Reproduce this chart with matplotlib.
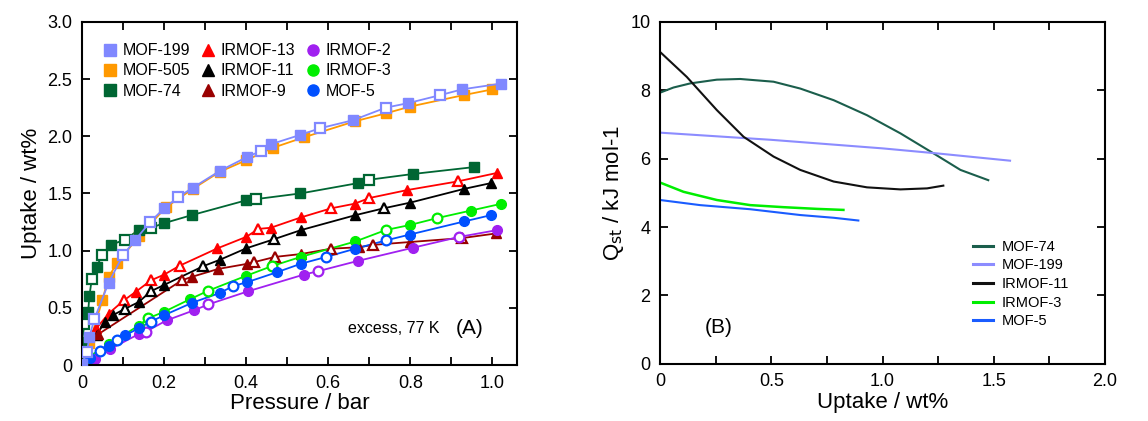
import numpy as np
import matplotlib.pyplot as plt
from matplotlib.lines import Line2D

plt.rcParams['font.family'] = ['Liberation Sans', 'DejaVu Sans']

# ---- (A) excess H2 isotherms at 77 K: (pressure bar, uptake wt%) ----
# filled = adsorption, open = desorption
mof199_ads = [(0.0, 0.006), (0.018, 0.245), (0.065, 0.72), (0.13, 1.095), (0.2, 1.37), (0.27, 1.55),
              (0.337, 1.70), (0.403, 1.82), (0.46, 1.93), (0.53, 2.01), (0.66, 2.14), (0.795, 2.29),
              (0.926, 2.41), (1.02, 2.46)]
mof199_des = [(0.012, 0.11), (0.03, 0.40), (0.10, 0.96), (0.166, 1.25), (0.235, 1.47), (0.435, 1.87),
              (0.58, 2.07), (0.74, 2.25), (0.873, 2.36)]
mof505_ads = [(0.0, 0.0), (0.018, 0.19), (0.05, 0.57), (0.065, 0.77), (0.085, 0.89), (0.14, 1.13),
              (0.205, 1.38), (0.27, 1.54), (0.336, 1.69), (0.40, 1.79), (0.466, 1.90), (0.54, 1.99),
              (0.664, 2.13), (0.74, 2.20), (0.80, 2.26), (0.93, 2.36), (1.0, 2.41)]
mof505_des = []
mof74_ads = [(0.0, 0.2), (0.015, 0.46), (0.018, 0.60), (0.036, 0.86), (0.07, 1.05), (0.138, 1.18),
             (0.2, 1.24), (0.267, 1.31), (0.40, 1.44), (0.532, 1.50), (0.672, 1.59), (0.806, 1.67),
             (0.954, 1.73)]
mof74_des = [(0.006, 0.36), (0.024, 0.755), (0.049, 0.96), (0.104, 1.095), (0.168, 1.20),
             (0.423, 1.45), (0.70, 1.62)]
irmof13_ads = [(0.035, 0.32), (0.065, 0.45), (0.131, 0.64), (0.2, 0.79), (0.33, 1.02), (0.40, 1.12),
               (0.46, 1.20), (0.533, 1.29), (0.664, 1.41), (0.793, 1.53), (1.012, 1.68)]
irmof13_des = [(0.102, 0.565), (0.168, 0.74), (0.239, 0.87), (0.43, 1.19), (0.607, 1.37),
               (0.70, 1.46), (0.915, 1.605)]
irmof11_ads = [(0.0, 0.01), (0.036, 0.26), (0.055, 0.375), (0.075, 0.435), (0.138, 0.55), (0.2, 0.70),
               (0.336, 0.92), (0.40, 1.02), (0.534, 1.18), (0.666, 1.31), (0.80, 1.42), (0.931, 1.54),
               (0.996, 1.59)]
irmof11_des = [(0.104, 0.49), (0.168, 0.645), (0.296, 0.865), (0.468, 1.10), (0.735, 1.37)]
irmof9_ads = [(0.04, 0.27), (0.267, 0.77), (0.332, 0.84), (0.403, 0.885), (0.533, 0.97), (0.676, 1.03),
              (0.798, 1.075), (1.008, 1.15)]
irmof9_des = [(0.243, 0.74), (0.42, 0.90), (0.47, 0.945), (0.607, 1.017), (0.708, 1.05), (0.927, 1.11)]
irmof2_ads = [(0.0, 0.0), (0.032, 0.055), (0.069, 0.14), (0.138, 0.27), (0.206, 0.39), (0.274, 0.48),
              (0.405, 0.645), (0.54, 0.79), (0.672, 0.91), (0.806, 1.025), (1.012, 1.18)]
irmof2_des = [(0.155, 0.29), (0.308, 0.53), (0.575, 0.82), (0.919, 1.12)]
irmof3_ads = [(0.008, 0.055), (0.066, 0.18), (0.138, 0.345), (0.2, 0.465), (0.263, 0.575), (0.40, 0.78),
              (0.533, 0.945), (0.666, 1.08), (0.80, 1.225), (0.947, 1.35), (1.022, 1.41)]
irmof3_des = [(0.162, 0.41), (0.308, 0.65), (0.463, 0.865), (0.74, 1.18), (0.866, 1.285)]
mof5_ads = [(0.0, 0.006), (0.019, 0.064), (0.066, 0.17), (0.105, 0.26), (0.138, 0.32), (0.2, 0.435),
            (0.269, 0.545), (0.336, 0.63), (0.403, 0.725), (0.474, 0.81), (0.533, 0.885), (0.666, 1.017),
            (0.798, 1.14), (0.931, 1.255), (0.996, 1.31)]
mof5_des = [(0.045, 0.12), (0.085, 0.22), (0.168, 0.38), (0.368, 0.69), (0.595, 0.945), (0.741, 1.09)]

# ---- (B) isosteric heats: (uptake wt%, Qst kJ/mol) ----
qst_mof74 = [(0.0, 7.93), (0.06, 8.08), (0.135, 8.2), (0.255, 8.31), (0.36, 8.33), (0.51, 8.25),
             (0.63, 8.05), (0.78, 7.71), (0.93, 7.27), (1.08, 6.74), (1.23, 6.15), (1.35, 5.67), (1.475, 5.37)]
qst_mof199 = [(0.0, 6.76), (0.5, 6.55), (1.0, 6.3), (1.25, 6.15), (1.573, 5.94)]
qst_irmof11 = [(0.0, 9.12), (0.12, 8.39), (0.255, 7.42), (0.375, 6.64), (0.51, 6.06), (0.63, 5.67),
               (0.78, 5.33), (0.93, 5.16), (1.08, 5.10), (1.2, 5.13), (1.273, 5.21)]
qst_irmof3 = [(0.0, 5.30), (0.105, 5.03), (0.255, 4.79), (0.405, 4.64), (0.555, 4.58), (0.705, 4.53),
              (0.824, 4.5)]
qst_mof5 = [(0.0, 4.79), (0.18, 4.64), (0.405, 4.52), (0.63, 4.35), (0.78, 4.27), (0.891, 4.19)]

c_199 = '#8088ff'
c_505 = '#ff9900'
c_74 = '#006633'
c_13 = '#ff0000'
c_11 = '#000000'
c_9 = '#990000'
c_2 = '#a020f0'
c_3 = '#00ee00'
c_5 = '#0050ff'

isotherms = [
    ('MOF-199', mof199_ads, mof199_des, c_199, 's'),
    ('MOF-505', mof505_ads, mof505_des, c_505, 's'),
    ('MOF-74', mof74_ads, mof74_des, c_74, 's'),
    ('IRMOF-13', irmof13_ads, irmof13_des, c_13, '^'),
    ('IRMOF-11', irmof11_ads, irmof11_des, c_11, '^'),
    ('IRMOF-9', irmof9_ads, irmof9_des, c_9, '^'),
    ('IRMOF-2', irmof2_ads, irmof2_des, c_2, 'o'),
    ('IRMOF-3', irmof3_ads, irmof3_des, c_3, 'o'),
    ('MOF-5', mof5_ads, mof5_des, c_5, 'o'),
]
zorder = {'MOF-505': 2, 'MOF-199': 3}

fig = plt.figure(figsize=(11.48, 4.21), dpi=100)
ax1 = fig.add_axes([0.0714, 0.133, 0.379, 0.815])
ax2 = fig.add_axes([0.575, 0.136, 0.3876, 0.812])

for name, ads, des, col, mk in isotherms:
    z = zorder.get(name, 2)
    pts = sorted(ads + des)
    ax1.plot([p[0] for p in pts], [p[1] for p in pts], '-', color=col, lw=1.3, zorder=z)
    ax1.plot([p[0] for p in ads], [p[1] for p in ads], mk, color=col, ms=7, mec=col, zorder=z + 0.1)
    if des:
        ax1.plot([p[0] for p in des], [p[1] for p in des], mk, mfc='white', mec=col, mew=1.6,
                 ms=7, zorder=z + 0.1)

handles = [Line2D([], [], ls='none', marker=mk, color=col, ms=8) for _, _, _, col, mk in isotherms]
ax1.legend(handles, [i[0] for i in isotherms], ncol=3, loc='upper left', frameon=False,
           fontsize=11.5, handletextpad=0.2, columnspacing=0.5, labelspacing=0.33,
           handlelength=1.2, bbox_to_anchor=(0.01, 0.98))

ax1.set_xlim(0, 1.06)
ax1.set_ylim(0, 3.0)
ax1.set_xticks(np.arange(0, 1.01, 0.1))
ax1.set_xticklabels(['0', '', '0.2', '', '0.4', '', '0.6', '', '0.8', '', '1.0'])
ax1.set_yticks(np.arange(0, 3.01, 0.5))
ax1.set_yticklabels(['0', '0.5', '1.0', '1.5', '2.0', '2.5', '3.0'])
ax1.set_xlabel('Pressure / bar', fontsize=16, labelpad=1)
ax1.set_ylabel('Uptake / wt%', fontsize=16, labelpad=4)
ax1.text(0.611, 0.105, 'excess, 77 K', transform=ax1.transAxes, fontsize=11.5, va='center')
ax1.text(0.89, 0.105, '(A)', transform=ax1.transAxes, fontsize=15, va='center', ha='center')

qst = [
    ('MOF-74', qst_mof74, '#1b5e4c', 1.5),
    ('MOF-199', qst_mof199, '#8c8cff', 1.5),
    ('IRMOF-11', qst_irmof11, '#111111', 1.5),
    ('IRMOF-3', qst_irmof3, '#00ee00', 1.8),
    ('MOF-5', qst_mof5, '#1a5cff', 1.5),
]
for name, pts, col, lw in qst:
    ax2.plot([p[0] for p in pts], [p[1] for p in pts], '-', color=col, lw=lw, label=name)

leg2 = ax2.legend(loc='lower left', frameon=False, fontsize=10.5, handlelength=1.4,
                  handletextpad=0.6, labelspacing=0.32, bbox_to_anchor=(0.673, 0.065))
for h in leg2.get_lines():
    h.set_linewidth(2.2)

ax2.set_xlim(0, 2.0)
ax2.set_ylim(0, 10)
ax2.set_xticks(np.arange(0, 2.01, 0.25))
ax2.set_xticklabels(['0', '', '0.5', '', '1.0', '', '1.5', '', '2.0'])
ax2.set_yticks(np.arange(0, 10.1, 2))
ax2.set_yticklabels(['0', '2', '4', '6', '8', '10'])
ax2.set_xlabel('Uptake / wt%', fontsize=16, labelpad=1)
ax2.set_ylabel(r'Q$_{\mathrm{st}}$ / kJ mol-1', fontsize=16, labelpad=3)
ax2.text(0.10, 0.105, '(B)', transform=ax2.transAxes, fontsize=15, va='center')

for ax in (ax1, ax2):
    ax.tick_params(direction='in', length=6, width=1.3, top=True, right=True, labelsize=13, pad=7)
    for s in ax.spines.values():
        s.set_linewidth(1.5)

fig.savefig('out.png', dpi=100)
